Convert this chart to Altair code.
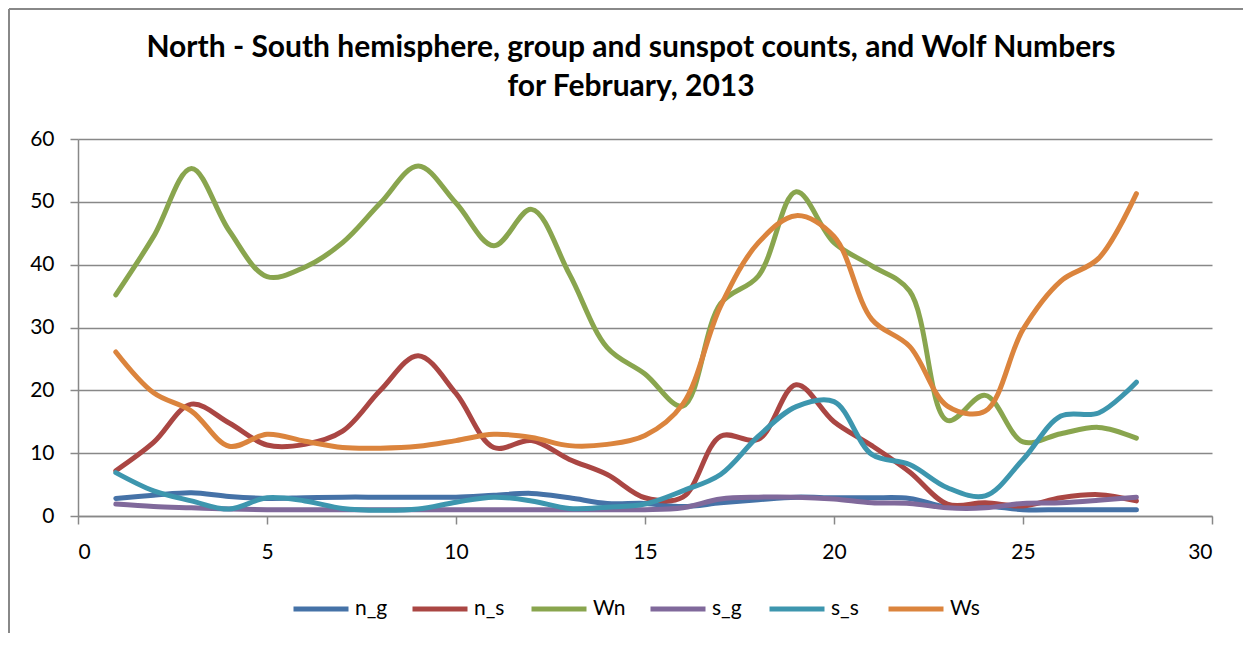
import altair as alt
import pandas as pd

days = list(range(1, 29))
series_names = ["n_g", "n_s", "Wn", "s_g", "s_s", "Ws"]
series_colors = ["#4572A7", "#AA4643", "#89A54E", "#80699B", "#3D96AE", "#DB843D"]

n_g = [2.8, 3.3, 3.7, 3.1, 2.8, 2.9, 3.0, 3.0, 3.0, 3.0, 3.3, 3.6, 2.9, 2.0,
       2.0, 1.5, 2.1, 2.6, 3.0, 2.9, 2.9, 2.8, 1.4, 1.6, 1.0, 1.0, 1.0, 1.0]
n_s = [7.2, 11.7, 17.8, 14.8, 11.3, 11.4, 13.5, 20.0, 25.5, 19.5, 10.9, 12.0, 9.0, 6.6,
       2.9, 3.0, 12.7, 12.2, 20.9, 15.0, 11.2, 7.0, 1.9, 2.1, 1.6, 2.9, 3.4, 2.4]
Wn = [35.2, 44.5, 55.3, 45.4, 38.1, 39.6, 43.5, 49.8, 55.7, 49.8, 43.0, 48.8, 38.5, 26.8,
      22.6, 17.5, 33.8, 38.2, 51.6, 43.5, 39.8, 35.8, 15.2, 19.2, 11.8, 13.1, 14.1, 12.4]
s_g = [1.9, 1.5, 1.3, 1.1, 1.0, 1.0, 1.0, 1.0, 1.0, 1.0, 1.0, 1.0, 1.0, 1.0,
       1.0, 1.3, 2.7, 3.0, 3.0, 2.7, 2.1, 2.0, 1.3, 1.3, 2.0, 2.1, 2.5, 3.0]
s_s = [6.9, 4.0, 2.4, 1.1, 2.9, 2.4, 1.2, 0.9, 1.1, 2.2, 3.0, 2.4, 1.2, 1.4,
       1.9, 4.0, 6.6, 12.7, 17.4, 18.2, 9.8, 8.2, 4.5, 3.2, 9.0, 15.9, 16.4, 21.3]
Ws = [26.1, 19.6, 16.7, 11.1, 13.0, 11.9, 10.9, 10.8, 11.1, 12.0, 13.0, 12.5, 11.2, 11.4,
      12.8, 17.8, 33.4, 43.5, 47.8, 44.5, 31.3, 27.0, 17.5, 16.7, 29.7, 37.4, 41.0, 51.3]

values = {"n_g": n_g, "n_s": n_s, "Wn": Wn, "s_g": s_g, "s_s": s_s, "Ws": Ws}
x_ticks = [0, 5, 10, 15, 20, 25, 30]
y_ticks = [0, 10, 20, 30, 40, 50, 60]

rows = []
for name in series_names:
    for d, v in zip(days, values[name]):
        rows.append({"day": d, "value": v, "series": name})
df = pd.DataFrame(rows)

FONT = "Lato"
GRAY = "#888888"

color = alt.Color(
    "series:N",
    scale=alt.Scale(domain=series_names, range=series_colors),
    legend=alt.Legend(
        title=None,
        orient="none",
        legendX=213,
        legendY=440,
        direction="horizontal",
        symbolType="stroke",
        symbolSize=3025,
        symbolStrokeWidth=5,
        labelFont=FONT,
        labelFontSize=21,
        labelColor="black",
        labelOffset=4,
        columnPadding=14,
        gridAlign="all",
        padding=0,
    ),
)

x = alt.X(
    "day:Q",
    scale=alt.Scale(domain=[0, 30], nice=False),
    axis=alt.Axis(values=x_ticks, grid=False, tickSize=8, labelPadding=17, title=None),
)
y = alt.Y(
    "value:Q",
    scale=alt.Scale(domain=[0, 60], nice=False),
    axis=alt.Axis(values=y_ticks, grid=True, tickSize=8, labelPadding=16, title=None),
)

layers = []
for name in series_names:
    layers.append(
        alt.Chart(df)
        .transform_filter(alt.datum.series == name)
        .mark_line(interpolate="catmull-rom", strokeWidth=5, strokeCap="round")
        .encode(x=x, y=y, color=color)
    )

border_df = pd.DataFrame({"k": [0]})
left_border = alt.Chart(border_df).mark_rule(color=GRAY, strokeWidth=2).encode(
    x=alt.value(-69), y=alt.value(-130), y2=alt.value(494)
)
top_border = alt.Chart(border_df).mark_rule(color=GRAY, strokeWidth=2).encode(
    x=alt.value(-69), x2=alt.value(1165), y=alt.value(-130)
)

chart = (
    alt.layer(*layers, left_border, top_border)
    .properties(
        width=1134,
        height=377,
        autosize="none",
        padding={"left": 70, "top": 131, "right": 31, "bottom": 117},
        title=alt.Title(
            ["North - South hemisphere, group and sunspot counts, and Wolf Numbers",
             "for February, 2013"],
            font=FONT,
            fontSize=30,
            fontWeight="bold",
            lineHeight=39,
            anchor="middle",
            baseline="bottom",
            dx=-14,
            offset=-124,
            color="black",
        ),
    )
    .configure_view(stroke=None)
    .configure_axis(
        domainColor=GRAY,
        gridColor=GRAY,
        tickColor=GRAY,
        domainWidth=1.5,
        gridWidth=1.5,
        tickWidth=1.5,
        labelFont=FONT,
        labelFontSize=21,
        labelColor="black",
    )
)

chart.save("out.html", embed_options={"renderer": "svg", "actions": False})
